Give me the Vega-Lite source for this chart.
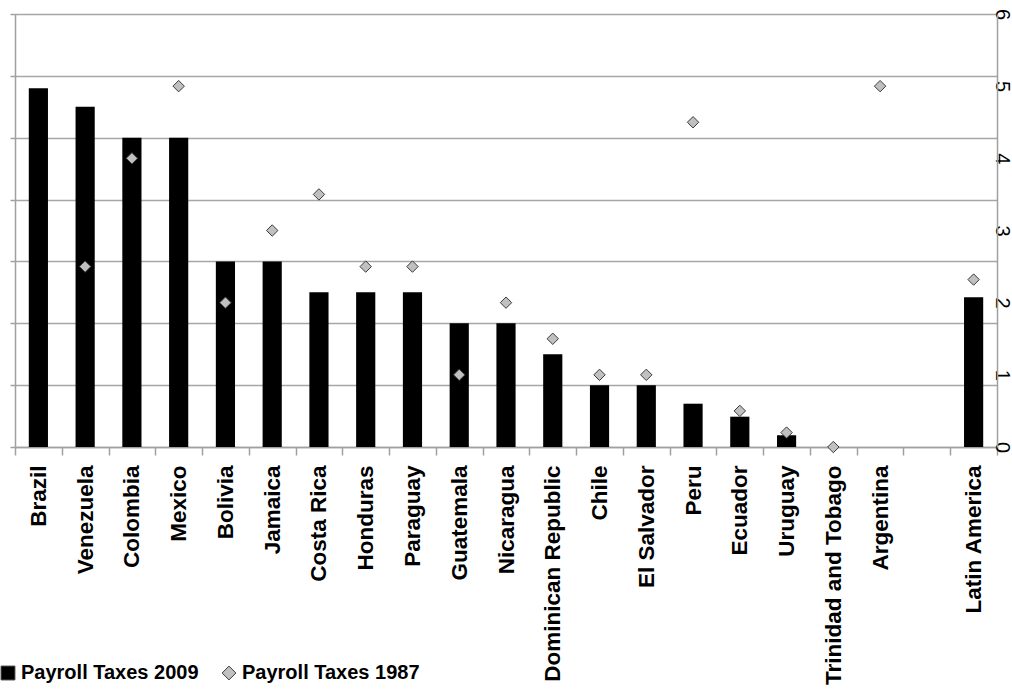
{
  "$schema": "https://vega.github.io/schema/vega-lite/v6.json",
  "width": 982,
  "height": 433,
  "autosize": "none",
  "padding": {"left": 15, "top": 14, "right": 15, "bottom": 251},
  "background": "white",
  "config": {"view": {"stroke": null}, "font": "Liberation Sans"},
  "data": {
    "values": [
      {"country": "Brazil", "series": "Payroll Taxes 2009", "value": 5.8},
      {"country": "Venezuela", "series": "Payroll Taxes 2009", "value": 5.5},
      {"country": "Colombia", "series": "Payroll Taxes 2009", "value": 5.0},
      {"country": "Mexico", "series": "Payroll Taxes 2009", "value": 5.0},
      {"country": "Bolivia", "series": "Payroll Taxes 2009", "value": 3.0},
      {"country": "Jamaica", "series": "Payroll Taxes 2009", "value": 3.0},
      {"country": "Costa Rica", "series": "Payroll Taxes 2009", "value": 2.5},
      {"country": "Honduras", "series": "Payroll Taxes 2009", "value": 2.5},
      {"country": "Paraguay", "series": "Payroll Taxes 2009", "value": 2.5},
      {"country": "Guatemala", "series": "Payroll Taxes 2009", "value": 2.0},
      {"country": "Nicaragua", "series": "Payroll Taxes 2009", "value": 2.0},
      {"country": "Dominican Republic", "series": "Payroll Taxes 2009", "value": 1.5},
      {"country": "Chile", "series": "Payroll Taxes 2009", "value": 1.0},
      {"country": "El Salvador", "series": "Payroll Taxes 2009", "value": 1.0},
      {"country": "Peru", "series": "Payroll Taxes 2009", "value": 0.7},
      {"country": "Ecuador", "series": "Payroll Taxes 2009", "value": 0.49},
      {"country": "Uruguay", "series": "Payroll Taxes 2009", "value": 0.19},
      {"country": "Latin America", "series": "Payroll Taxes 2009", "value": 2.42},
      {"country": "Venezuela", "series": "Payroll Taxes 1987", "value": 2.5},
      {"country": "Colombia", "series": "Payroll Taxes 1987", "value": 4.0},
      {"country": "Mexico", "series": "Payroll Taxes 1987", "value": 5.0},
      {"country": "Bolivia", "series": "Payroll Taxes 1987", "value": 2.0},
      {"country": "Jamaica", "series": "Payroll Taxes 1987", "value": 3.0},
      {"country": "Costa Rica", "series": "Payroll Taxes 1987", "value": 3.5},
      {"country": "Honduras", "series": "Payroll Taxes 1987", "value": 2.5},
      {"country": "Paraguay", "series": "Payroll Taxes 1987", "value": 2.5},
      {"country": "Guatemala", "series": "Payroll Taxes 1987", "value": 1.0},
      {"country": "Nicaragua", "series": "Payroll Taxes 1987", "value": 2.0},
      {"country": "Dominican Republic", "series": "Payroll Taxes 1987", "value": 1.5},
      {"country": "Chile", "series": "Payroll Taxes 1987", "value": 1.0},
      {"country": "El Salvador", "series": "Payroll Taxes 1987", "value": 1.0},
      {"country": "Peru", "series": "Payroll Taxes 1987", "value": 4.5},
      {"country": "Ecuador", "series": "Payroll Taxes 1987", "value": 0.5},
      {"country": "Uruguay", "series": "Payroll Taxes 1987", "value": 0.2},
      {"country": "Trinidad and Tobago", "series": "Payroll Taxes 1987", "value": 0.0},
      {"country": "Argentina", "series": "Payroll Taxes 1987", "value": 5.0},
      {"country": "Latin America", "series": "Payroll Taxes 1987", "value": 2.32}
    ]
  },
  "encoding": {
    "x": {
      "field": "country",
      "type": "nominal",
      "title": null,
      "scale": {
        "domain": ["Brazil", "Venezuela", "Colombia", "Mexico", "Bolivia", "Jamaica", "Costa Rica", "Honduras", "Paraguay", "Guatemala", "Nicaragua", "Dominican Republic", "Chile", "El Salvador", "Peru", "Ecuador", "Uruguay", "Trinidad and Tobago", "Argentina", " ", "Latin America"],
        "paddingInner": 0,
        "paddingOuter": 0
      },
      "axis": {
        "labelAngle": -90,
        "labelAlign": "right",
        "labelBaseline": "middle",
        "labelFont": "Liberation Sans",
        "labelFontSize": 22.5,
        "labelFontWeight": "bold",
        "labelColor": "black",
        "labelLimit": 300,
        "labelPadding": 10,
        "tickBand": "extent",
        "tickSize": 8,
        "tickColor": "#a0a0a0",
        "tickWidth": 1.5,
        "domainColor": "#a0a0a0",
        "domainWidth": 1.5,
        "grid": false
      }
    }
  },
  "layer": [
    {
      "transform": [{"filter": "datum.series === 'Payroll Taxes 2009'"}],
      "mark": {"type": "bar", "width": {"band": 0.41}},
      "encoding": {
        "y": {
          "field": "value",
          "type": "quantitative",
          "title": null,
          "scale": {"domain": [0, 7]},
          "axis": {
            "orient": "left",
            "labels": false,
            "values": [0, 1, 2, 3, 4, 5, 6, 7],
            "grid": true,
            "gridColor": "#a6a6a6",
            "gridWidth": 1.5,
            "tickSize": 5,
            "tickColor": "#a0a0a0",
            "tickWidth": 1.5,
            "domainColor": "#a0a0a0",
            "domainWidth": 1.5
          }
        },
        "color": {
          "field": "series",
          "type": "nominal",
          "title": null,
          "scale": {"domain": ["Payroll Taxes 2009", "Payroll Taxes 1987"], "range": ["#000000", "#c0c0c0"]},
          "legend": {
            "orient": "none",
            "legendX": -17,
            "legendY": 649,
            "direction": "horizontal",
            "padding": 0,
            "labelFont": "Liberation Sans",
            "labelFontSize": 20,
            "labelFontWeight": "bold",
            "labelColor": "black",
            "labelLimit": 300,
            "labelOffset": 3,
            "columnPadding": 20,
            "symbolSize": 190,
            "symbolStrokeColor": "#3a3a3a",
            "symbolStrokeWidth": 1,
            "symbolOpacity": 1
          }
        }
      }
    },
    {
      "transform": [{"filter": "datum.series === 'Payroll Taxes 1987'"}],
      "mark": {"type": "point", "filled": true, "opacity": 1, "stroke": "#3a3a3a", "strokeWidth": 1, "size": 130, "clip": false},
      "encoding": {
        "y": {
          "field": "value",
          "type": "quantitative",
          "title": null,
          "scale": {"domain": [0, 6]},
          "axis": {
            "orient": "right",
            "values": [0, 1, 2, 3, 4, 5, 6],
            "grid": false,
            "ticks": false,
            "labelAngle": 90,
            "labelAlign": "center",
            "labelBaseline": "alphabetic",
            "labelFont": "Liberation Sans",
            "labelFontSize": 20,
            "labelColor": "black",
            "labelPadding": -2,
            "labelFlush": false,
            "labelOverlap": false,
            "domainColor": "#a0a0a0",
            "domainWidth": 1.5
          }
        },
        "color": {
          "field": "series",
          "type": "nominal",
          "title": null,
          "scale": {"domain": ["Payroll Taxes 2009", "Payroll Taxes 1987"], "range": ["#000000", "#c0c0c0"]}
        },
        "shape": {
          "field": "series",
          "type": "nominal",
          "title": null,
          "scale": {"domain": ["Payroll Taxes 2009", "Payroll Taxes 1987"], "range": ["square", "diamond"]},
          "legend": {
            "orient": "none",
            "legendX": -17,
            "legendY": 649,
            "direction": "horizontal",
            "padding": 0,
            "labelFont": "Liberation Sans",
            "labelFontSize": 20,
            "labelFontWeight": "bold",
            "labelColor": "black",
            "labelLimit": 300,
            "labelOffset": 3,
            "columnPadding": 20,
            "symbolSize": 190,
            "symbolStrokeColor": "#3a3a3a",
            "symbolStrokeWidth": 1,
            "symbolOpacity": 1
          }
        }
      }
    }
  ],
  "resolve": {"scale": {"y": "independent"}}
}
